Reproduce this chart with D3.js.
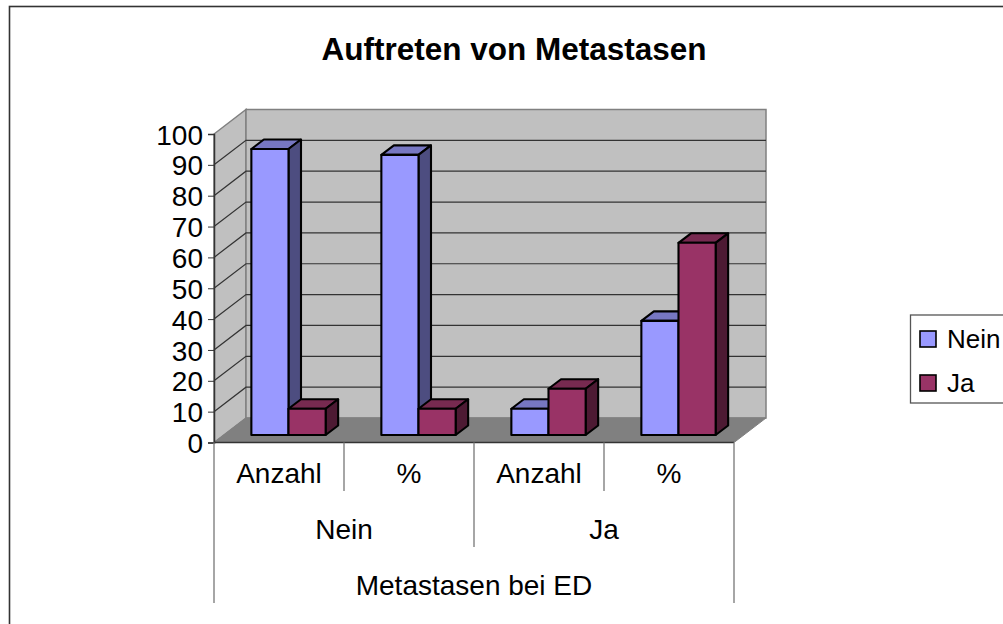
<!DOCTYPE html>
<html><head><meta charset="utf-8">
<script src="https://cdn.jsdelivr.net/npm/d3@7"></script>
<style>html,body{margin:0;padding:0;background:#fff;overflow:hidden}svg{display:block}text{font-family:"Liberation Sans",Arial,sans-serif;fill:#000}</style>
</head><body><svg id="c" width="1003" height="624"></svg>
<script>
const title = "Auftreten von Metastasen";
const levelOne = ["Anzahl", "%", "Anzahl", "%"];
const levelTwo = ["Nein", "Ja"];
const levelThree = ["Metastasen bei ED"];
const seriesNames = ["Nein", "Ja"];
const neinValues = [92.7, 90.8, 8.5, 37];
const jaValues = [8.5, 8.5, 15, 62.3];
const yTicks = [0,10,20,30,40,50,60,70,80,90,100];
const seriesFill = ["#9999ff", "#993366"];
const seriesTop = ["#7777c2", "#772a50"];
const seriesSide = ["#4d4d80", "#4d1a33"];

const svg = d3.select("#c");
const frontL = 214, frontR = 734, frontB = 442.5, frontT = 134;
const dx = 32, dy = -24.5;
const y = d3.scaleLinear().domain([0,100]).range([frontB, frontT]);
const xCat = d3.scaleBand().domain(d3.range(4)).range([frontL, frontR]);
const xSer = d3.scaleBand().domain([0,1]).range([xCat.step()*0.2143, xCat.step()*0.7857]);
const barDx = 9.5, barDy = -7.5, depthX = 12.5, depthY = -9.5;
const pts = a => a.map(p=>p.join(",")).join(" ");

svg.append("rect").attr("x",9.5).attr("y",6.5).attr("width",1100).attr("height",700)
  .attr("fill","#fff").attr("stroke","#333").attr("stroke-width",1.6);
svg.append("text").attr("x",514).attr("y",60).attr("text-anchor","middle")
  .attr("font-size",31.5).attr("font-weight","bold").text(title);

// walls and floor
const wall = "#c0c0c0", wallEdge = "#808080";
svg.append("polygon").attr("points",pts([[frontL,y(0)],[frontL+dx,y(0)+dy],[frontL+dx,y(100)+dy],[frontL,y(100)]]))
  .attr("fill",wall).attr("stroke",wallEdge).attr("stroke-width",1.5);
svg.append("polygon").attr("points",pts([[frontL+dx,y(0)+dy],[frontR+dx,y(0)+dy],[frontR+dx,y(100)+dy],[frontL+dx,y(100)+dy]]))
  .attr("fill",wall).attr("stroke",wallEdge).attr("stroke-width",1.5);
svg.append("polygon").attr("points",pts([[frontL,y(0)],[frontR,y(0)],[frontR+dx,y(0)+dy],[frontL+dx,y(0)+dy]]))
  .attr("fill","#808080").attr("stroke","#808080").attr("stroke-width",1);

// gridlines
yTicks.filter(t=>t>0&&t<100).forEach(t=>{
  svg.append("polyline").attr("fill","none").attr("stroke","#333").attr("stroke-width",1.2)
    .attr("points",pts([[frontL,y(t)],[frontL+dx,y(t)+dy],[frontR+dx,y(t)+dy]]));
});
// front floor edge
svg.append("line").attr("x1",frontL).attr("x2",frontR).attr("y1",y(0)).attr("y2",y(0)).attr("stroke","#333").attr("stroke-width",1.5);

// axis
const axis = d3.axisLeft(y).tickValues(yTicks).tickSize(6).tickPadding(5);
const gy = svg.append("g").attr("transform",`translate(${frontL},0)`).call(axis);
gy.selectAll("text").attr("font-size",28).attr("dy","0.36em").style("font-family",'"Liberation Sans",Arial,sans-serif');
gy.selectAll("line").attr("stroke","#333").attr("stroke-width",1);
gy.select(".domain").attr("stroke","#333").attr("stroke-width",1.5);

// bars
function bar(cat, ser, v){
  const l = xCat(cat) + xSer(ser) + barDx, w = xSer.bandwidth();
  const base = y(0) + barDy, top = y(v) + barDy;
  const g = svg.append("g").attr("stroke","#000").attr("stroke-width",2.1).attr("stroke-linejoin","round");
  g.append("polygon").attr("points",pts([[l,top],[l+w,top],[l+w+depthX,top+depthY],[l+depthX,top+depthY]])).attr("fill",seriesTop[ser]);
  g.append("polygon").attr("points",pts([[l+w,top],[l+w+depthX,top+depthY],[l+w+depthX,base+depthY],[l+w,base]])).attr("fill",seriesSide[ser]);
  g.append("rect").attr("x",l).attr("y",top).attr("width",w).attr("height",base-top).attr("fill",seriesFill[ser]);
}
d3.range(4).forEach(c=>{ bar(c,0,neinValues[c]); bar(c,1,jaValues[c]); });

// multi-level category axis
const sep = "#808080", step = xCat.step();
const vline = (x,y2)=>svg.append("line").attr("x1",x).attr("x2",x).attr("y1",y(0)).attr("y2",y2).attr("stroke",sep).attr("stroke-width",1.4);
[0,4].forEach(i=>vline(frontL+i*step,603));
vline(frontL+2*step,547);
[1,3].forEach(i=>vline(frontL+i*step,491));
const label=(x,yy,t)=>svg.append("text").attr("x",x).attr("y",yy).attr("text-anchor","middle").attr("font-size",28).text(t);
levelOne.forEach((t,i)=>label(frontL+(i+.5)*step,483,t));
levelTwo.forEach((t,i)=>label(frontL+(2*i+1)*step,539,t));
label((frontL+frontR)/2,595,levelThree[0]);

// legend
svg.append("rect").attr("x",910.5).attr("y",315).attr("width",120).attr("height",88).attr("fill","#fff").attr("stroke","#555").attr("stroke-width",1.3);
seriesNames.forEach((n,i)=>{
  const yy = 339 + i*44;
  svg.append("rect").attr("x",920).attr("y",yy-8).attr("width",16).attr("height",16).attr("fill",seriesFill[i]).attr("stroke","#000").attr("stroke-width",1.6);
  svg.append("text").attr("x",947).attr("y",yy+9).attr("font-size",26).text(n);
});
</script></body></html>
